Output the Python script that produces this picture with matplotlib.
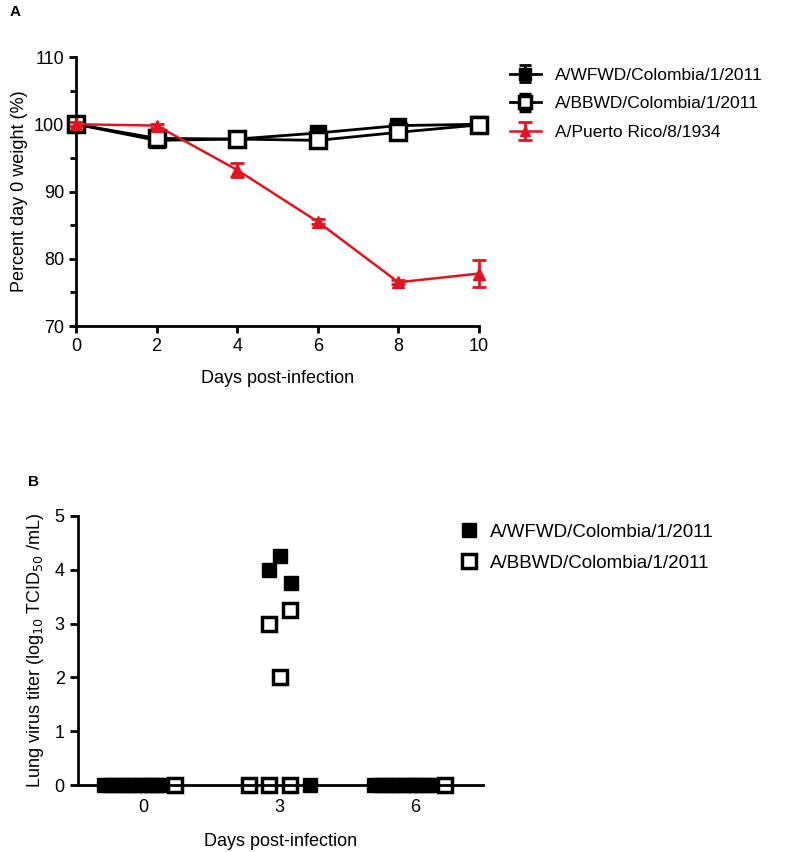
import matplotlib.pyplot as plt

plt.rcParams['font.family'] = ['Liberation Sans', 'DejaVu Sans']

# panel A: weight curves
days = [0, 2, 4, 6, 8, 10]
wfwd_weight = [100, 97.6, 97.8, 98.7, 99.8, 100]
wfwd_err = [0.3, 0.4, 0.3, 0.8, 0.7, 0.4]
bbwd_weight = [100, 97.9, 97.8, 97.6, 98.8, 99.9]
bbwd_err = [0.3, 0.4, 0.3, 0.6, 0.6, 0.4]
pr8_weight = [100, 99.8, 93.2, 85.5, 76.5, 77.8]
pr8_err = [0.3, 0.3, 1.0, 0.4, 0.3, 2.0]
names = ['A/WFWD/Colombia/1/2011', 'A/BBWD/Colombia/1/2011', 'A/Puerto Rico/8/1934']

# panel B: lung titers (x = day plus spread of points in the column)
wfwd_x = [-0.85, -0.72, -0.59, -0.46, -0.33, -0.2, -0.07, 0.06, 0.19, 0.32, 0.42,
          2.78, 3.02, 3.26, 3.69,
          5.1, 5.23, 5.36, 5.49, 5.62, 5.75, 5.88, 6.01, 6.14, 6.27, 6.4]
wfwd_titer = [0, 0, 0, 0, 0, 0, 0, 0, 0, 0, 0,
              4.0, 4.25, 3.75, 0,
              0, 0, 0, 0, 0, 0, 0, 0, 0, 0, 0]
bbwd_x = [0.7, 2.34, 2.78, 3.24, 2.78, 3.02, 3.24, 6.67]
bbwd_titer = [0, 0, 0, 0, 3.0, 2.0, 3.25, 0]

red = '#e3141f'

fig = plt.figure(figsize=(7.85, 8.52), dpi=100)

# ---- A ----
ax = fig.add_axes([76 / 785, 1 - 326 / 852, (479 - 76) / 785, (326 - 57) / 852])
ax.errorbar(days, wfwd_weight, yerr=wfwd_err, color='black', lw=2, marker='s', ms=11,
            mfc='black', mec='black', capsize=4, elinewidth=2, capthick=2, clip_on=False, label=names[0])
ax.errorbar(days, bbwd_weight, yerr=bbwd_err, color='black', lw=2, marker='s', ms=11,
            mfc='white', mec='black', mew=2.5, capsize=4, elinewidth=2, capthick=2, clip_on=False, label=names[1])
ax.errorbar(days, pr8_weight, yerr=pr8_err, color=red, lw=1.8, marker='^', ms=9,
            mfc=red, mec=red, capsize=5, elinewidth=2, capthick=2, clip_on=False, label=names[2], zorder=5)
ax.set_xlim(0, 10)
ax.set_ylim(70, 110)
ax.set_xticks(days)
ax.set_yticks([70, 80, 90, 100, 110])
ax.set_yticks([75, 85, 95, 105], minor=True)
for s in ['top', 'right']:
    ax.spines[s].set_visible(False)
for s in ['left', 'bottom']:
    ax.spines[s].set_linewidth(2)
ax.tick_params(width=2, length=5, labelsize=13)
ax.tick_params(which='minor', width=2, length=4)
ax.set_xlabel('Days post-infection', fontsize=13, labelpad=11)
ax.set_ylabel('Percent day 0 weight (%)', fontsize=13, labelpad=4)
ax.legend(loc='upper left', bbox_to_anchor=(494 / 785, 1 - 52 / 852), bbox_transform=fig.transFigure,
          frameon=False, fontsize=12.5, handlelength=1.8, handletextpad=0.8, labelspacing=0.78,
          markerscale=0.8)

# ---- B ----
bx = fig.add_axes([78 / 785, 1 - 785 / 852, (483 - 78) / 785, (785 - 516) / 852])
bx.plot(wfwd_x, wfwd_titer, 's', ms=10, color='black', clip_on=False, label=names[0])
bx.plot(bbwd_x, bbwd_titer, 's', ms=10, mfc='white', mec='black', mew=2.5, clip_on=False, label=names[1])
bx.set_xlim(-1.43, 7.5)
bx.set_ylim(0, 5)
bx.set_xticks([0, 3, 6])
bx.set_yticks([0, 1, 2, 3, 4, 5])
for s in ['top', 'right']:
    bx.spines[s].set_visible(False)
for s in ['left', 'bottom']:
    bx.spines[s].set_linewidth(2)
bx.tick_params(axis='y', width=2, length=6, labelsize=13)
bx.tick_params(axis='x', length=0, labelsize=13, pad=10)
bx.set_xlabel('Days post-infection', fontsize=13, labelpad=12)
bx.set_ylabel('Lung virus titer (log$_{10}$ TCID$_{50}$ /mL)', fontsize=13, labelpad=6)
bx.legend(loc='upper left', bbox_to_anchor=(437 / 785, 1 - 507 / 852), bbox_transform=fig.transFigure,
          frameon=False, fontsize=13.5, handlelength=1.6, handletextpad=0.3, labelspacing=0.72)

fig.text(10 / 785, 1 - 12 / 852, 'A', fontsize=11, fontweight='bold', va='center')
fig.text(28 / 785, 1 - 482 / 852, 'B', fontsize=11, fontweight='bold', va='center')

fig.savefig('out.png', dpi=100)
